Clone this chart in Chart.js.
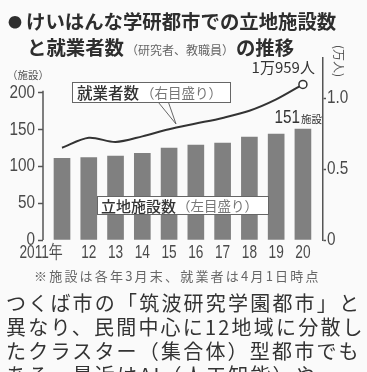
<!DOCTYPE html>
<html>
<head>
<meta charset="utf-8">
<script src="https://cdn.jsdelivr.net/npm/chart.js@4.4.1/dist/chart.umd.min.js"></script>
<style>
  html, body { margin: 0; padding: 0; background: #fafafa; }
  #wrap { position: relative; width: 367px; height: 372px; overflow: hidden;
          font-family: "Noto Sans CJK JP", sans-serif; color: #333; }
  #chart { position: absolute; left: 0; top: 0; }
  .t { position: absolute; white-space: nowrap; }
  .title { font-weight: 700; font-size: 19.4px; line-height: 22px; color: #2e2e2e; }
  .mark { font-size: 14px; vertical-align: 2px; margin-right: 4px; }
  .sub { font-size: 12px; font-weight: 400; color: #666; margin: 0 2px; }
  .note { font-size: 13px; color: #666; letter-spacing: 2.2px; line-height: 16px; }
  .body { font-size: 20px; letter-spacing: 2.2px; line-height: 24px; color: #333; }
</style>
</head>
<body>
<div id="wrap">
  <canvas id="chart" width="367" height="372"></canvas>
  <div class="t title" style="left:8px; top:10px"><span class="mark">●</span>けいはんな学研都市での立地施設数</div>
  <div class="t title" style="left:27px; top:36px">と就業者数<span class="sub">（研究者、教職員）</span>の推移</div>
  <div class="t note" style="left:34px; top:268px">※施設は各年3月末、就業者は4月1日時点</div>
  <div class="t body" style="left:6px; top:291px">つくば市の「筑波研究学園都市」と<br>異なり、民間中心に12地域に分散し<br>たクラスター（集合体）型都市でも<br>ある。最近はAI（人工知能）や</div>
</div>
<script>
// データ
const years = ["2011年", "12", "13", "14", "15", "16", "17", "18", "19", "20"];
const facilities = [111, 112, 114, 118, 125, 129, 132, 140, 144, 151]; // 立地施設数（左目盛り）
const workers = [0.65, 0.72, 0.69, 0.73, 0.78, 0.82, 0.86, 0.91, 0.99, 1.0959]; // 就業者数 万人（右目盛り）
const leftTicks = [0, 50, 100, 150, 200];
const rightTicks = [0, 0.5, 1.0];

const numFont = "'Liberation Sans', sans-serif";
const jpFont = "'Noto Sans CJK JP', sans-serif";

// 横に詰めた数字を書く
function narrowText(ctx, text, x, y, sx, align) {
  ctx.save();
  ctx.translate(x, y);
  ctx.scale(sx, 1);
  ctx.textAlign = align;
  ctx.fillText(text, 0, 0);
  ctx.restore();
}

// 軸線・ラベル・注記
const decor = {
  id: "decor",
  afterDatasetsDraw(chart) {
    const { ctx, chartArea, scales } = chart;
    const xs = scales.x, yL = scales.yL, yR = scales.yR;
    ctx.save();

    // 左軸の線（0〜200）
    ctx.strokeStyle = "#555";
    ctx.lineWidth = 1.5;
    ctx.beginPath();
    ctx.moveTo(chartArea.left, yL.getPixelForValue(0));
    ctx.lineTo(chartArea.left, yL.getPixelForValue(203));
    ctx.stroke();

    // 目盛りの数字
    ctx.fillStyle = "#4a4a4a";
    ctx.textBaseline = "middle";
    ctx.font = "18px " + numFont;
    leftTicks.forEach((v) => {
      narrowText(ctx, String(v), chartArea.left - 8, yL.getPixelForValue(v), 0.85, "right");
    });
    rightTicks.forEach((v) => {
      narrowText(ctx, v === 0 ? "0" : v.toFixed(1), chartArea.right + 4, yR.getPixelForValue(v), 0.85, "left");
    });

    // 年のラベル
    ctx.font = "19px " + numFont;
    years.forEach((lab, i) => {
      let x = xs.getPixelForValue(i);
      if (i === 0) x -= 21;
      narrowText(ctx, lab, x, 253, 0.72, "center");
    });

    // 単位
    ctx.font = "10.5px " + jpFont;
    ctx.fillStyle = "#555";
    ctx.textAlign = "left";
    ctx.fillText("（施設）", 7, 75);
    ctx.save();
    ctx.translate(339, 61);
    ctx.rotate(Math.PI / 2);
    ctx.textAlign = "center";
    ctx.font = "12px " + jpFont;
    ctx.fillText("(万人)", 0, 0);
    ctx.restore();

    // 就業者数の囲み
    ctx.fillStyle = "#fff";
    ctx.strokeStyle = "#666";
    ctx.lineWidth = 1;
    ctx.fillRect(72.5, 82.5, 158, 20);
    ctx.strokeRect(72.5, 82.5, 158, 20);
    ctx.beginPath();
    ctx.moveTo(158.5, 102.5);
    ctx.lineTo(176, 124);
    ctx.lineTo(168.5, 102.5);
    ctx.stroke();
    ctx.textAlign = "left";
    ctx.fillStyle = "#333";
    ctx.font = "500 15.5px " + jpFont;
    ctx.fillText("就業者数", 77, 93);
    ctx.fillStyle = "#777";
    ctx.font = "13.5px " + jpFont;
    ctx.fillText("（右目盛り）", 141, 93);

    // 立地施設数の囲み
    ctx.fillStyle = "#fff";
    ctx.fillRect(97.5, 196.5, 171, 18);
    ctx.strokeRect(97.5, 196.5, 171, 18);
    ctx.fillStyle = "#333";
    ctx.font = "500 15px " + jpFont;
    ctx.fillText("立地施設数", 101, 206);
    ctx.fillStyle = "#777";
    ctx.font = "13.5px " + jpFont;
    ctx.fillText("（左目盛り）", 177, 206);

    // 2020年の値
    const lx = xs.getPixelForValue(9);
    const ly = yR.getPixelForValue(workers[9]);
    ctx.fillStyle = "#333";
    ctx.font = "15px " + jpFont;
    ctx.textAlign = "right";
    ctx.fillText("1万959人", lx + 12, ly - 17);

    const by = yL.getPixelForValue(facilities[9]);
    ctx.font = "18px " + numFont;
    narrowText(ctx, "151", lx - 3, by - 11, 0.85, "right");
    ctx.textAlign = "left";
    ctx.font = "10.5px " + jpFont;
    ctx.fillText("施設", lx - 2, by - 10);

    ctx.restore();
  }
};

new Chart(document.getElementById("chart"), {
  type: "bar",
  data: {
    datasets: [
      {
        type: "line",
        label: "就業者数",
        data: workers.map((v, i) => ({ x: i, y: v })),
        yAxisID: "yR",
        borderColor: "#333",
        borderWidth: 2,
        tension: 0.3,
        pointRadius: workers.map((v, i) => (i === workers.length - 1 ? 4 : 0)),
        pointBackgroundColor: "#fff",
        pointBorderColor: "#333",
        pointBorderWidth: 1.5,
        order: 1
      },
      {
        type: "bar",
        label: "立地施設数",
        data: facilities.map((v, i) => ({ x: i, y: v })),
        yAxisID: "yL",
        backgroundColor: "#808080",
        barThickness: 16,
        order: 2
      }
    ]
  },
  options: {
    responsive: false,
    animation: false,
    devicePixelRatio: 1,
    layout: { padding: { top: 58, left: 0, right: 0, bottom: 0 } },
    plugins: { legend: { display: false }, tooltip: { enabled: false } },
    scales: {
      x: {
        type: "linear",
        min: -0.71,
        max: 9.75,
        offset: false,
        ticks: { display: false },
        grid: { display: false },
        border: { display: false },
        afterFit: (s) => { s.height = 372 - 240; }
      },
      yL: {
        position: "left",
        min: 0,
        max: 247.6,
        afterBuildTicks: (s) => { s.ticks = leftTicks.map((v) => ({ value: v })); },
        ticks: { display: false },
        grid: { drawOnChartArea: false, drawTicks: true, tickLength: 5, tickColor: "#555", tickWidth: 1.5 },
        border: { display: false },
        afterFit: (s) => { s.width = 43; }
      },
      yR: {
        position: "right",
        min: 0,
        max: 1.282,
        afterBuildTicks: (s) => { s.ticks = rightTicks.map((v) => ({ value: v })); },
        ticks: { display: false },
        grid: { drawOnChartArea: false, drawTicks: true, tickLength: 3, tickColor: "#555", tickWidth: 1.5 },
        border: { display: true, color: "#555", width: 1.5 },
        afterFit: (s) => { s.width = 44; }
      }
    }
  },
  plugins: [decor]
});
</script>
</body>
</html>
